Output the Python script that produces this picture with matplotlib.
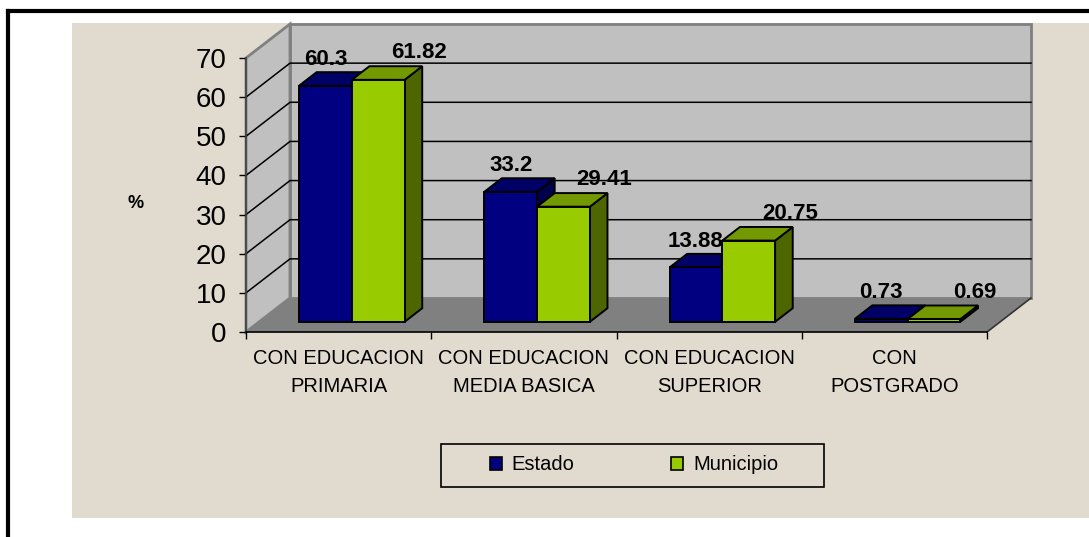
import matplotlib.pyplot as plt
from matplotlib.patches import Polygon, Rectangle

plt.rcParams['font.family'] = ['Liberation Sans', 'DejaVu Sans']

categories = ["CON EDUCACION\nPRIMARIA", "CON EDUCACION\nMEDIA BASICA",
              "CON EDUCACION\nSUPERIOR", "CON\nPOSTGRADO"]
series_names = ["Estado", "Municipio"]
estado = [60.3, 33.2, 13.88, 0.73]
municipio = [61.82, 29.41, 20.75, 0.69]
label_text = [["60.3", "33.2", "13.88", "0.73"], ["61.82", "29.41", "20.75", "0.69"]]
yticks = [0, 10, 20, 30, 40, 50, 60, 70]

W, H = 1089, 537
fig = plt.figure(figsize=(W / 100, H / 100), dpi=100)
fig.patch.set_facecolor("white")

# beige chart area and the outer frame lines (figure pixels)
fig.patches.append(Rectangle((72 / W, 1 - 518 / H), (W - 72) / W, (518 - 23) / H,
                             transform=fig.transFigure, facecolor="#E0DBCE", edgecolor="none", zorder=-5))
fig.lines.append(plt.Line2D([8 / W, 8 / W], [0, 1 - 11 / H], transform=fig.transFigure, color="black", lw=3))
fig.lines.append(plt.Line2D([8 / W, 1], [1 - 11 / H, 1 - 11 / H], transform=fig.transFigure, color="black", lw=3))

ax = fig.add_axes([246 / W, 1 - 332 / H, (987 - 246) / W, (332 - 58) / H])
ax.set_zorder(2)
ax.set_xlim(0, 4)
ax.set_ylim(0, 70)
ax.patch.set_visible(False)

# depth of the 3d box in data units
DX = 44 / (741 / 4)
DY = 34 / (274 / 70)


def P(x, y, d):
    return (x + d * DX, y + d * DY)


def poly(pts, fc, ec, lw, z):
    ax.add_patch(Polygon(pts, closed=True, facecolor=fc, edgecolor=ec, lw=lw, zorder=z, clip_on=False))


# walls and floor
poly([P(0, 0, 1), P(4, 0, 1), P(4, 70, 1), P(0, 70, 1)], "#C0C0C0", "#808080", 2, 1)
poly([P(0, 0, 0), P(0, 0, 1), P(0, 70, 1), P(0, 70, 0)], "#C0C0C0", "#808080", 2, 1)
poly([P(0, 0, 0), P(4, 0, 0), P(4, 0, 1), P(0, 0, 1)], "#808080", "none", 0, 2)
ax.plot([4, 4 + DX], [0, DY], color="#333333", lw=1.2, zorder=2, clip_on=False)
for v in yticks[1:-1]:
    x0, y0 = P(0, v, 0)
    x1, y1 = P(0, v, 1)
    x2, y2 = P(4, v, 1)
    ax.plot([x0, x1, x2], [y0, y1, y2], color="black", lw=1.1, zorder=2, clip_on=False)

# 3d bars
bw = 0.285
d0, d1 = 0.3, 0.7
colors = [("#000080", "#000066", "#00004D"), ("#99CC00", "#739900", "#4D6600")]
values = [estado, municipio]
label_off = [(0, 26), (41, 27)]
for i in range(len(categories)):
    for s in range(2):
        v = values[s][i]
        xl = i + 0.5 - bw + s * bw
        xr = xl + bw
        front, top, side = colors[s]
        z = 3 + s
        poly([P(xr, 0, d0), P(xr, 0, d1), P(xr, v, d1), P(xr, v, d0)], side, "black", 1.4, z)
        poly([P(xl, v, d0), P(xr, v, d0), P(xr, v, d1), P(xl, v, d1)], top, "black", 1.4, z)
        poly([P(xl, 0, d0), P(xr, 0, d0), P(xr, v, d0), P(xl, v, d0)], front, "black", 1.4, z)
        ax.annotate(label_text[s][i], P((xl + xr) / 2, v, d0), xytext=label_off[s],
                    textcoords="offset pixels", ha="center", va="center",
                    fontsize=16, fontweight="bold", zorder=10, annotation_clip=False)

# axes, ticks and labels
for sp in ["top", "right"]:
    ax.spines[sp].set_visible(False)
ax.spines["left"].set_color("#404040")
ax.spines["left"].set_linewidth(1.2)
ax.spines["bottom"].set_color("black")
ax.spines["bottom"].set_linewidth(1.2)
ax.spines["bottom"].set_zorder(2.5)
ax.set_yticks(yticks)
ax.tick_params(axis="y", labelsize=20, length=5, width=1, direction="out", pad=9)
ax.set_xticks([0, 1, 2, 3, 4])
ax.set_xticklabels([])
ax.tick_params(axis="x", which="major", length=5, width=1, direction="out")
ax.set_xticks([0.5, 1.5, 2.5, 3.5], minor=True)
ax.set_xticklabels(categories, minor=True, fontsize=14.5)
ax.tick_params(axis="x", which="minor", length=0, pad=12)
for lbl in ax.get_xticklabels(minor=True):
    lbl.set_linespacing(1.65)

fig.text(136 / W, 1 - 203 / H, "%", fontsize=13, fontweight="bold", ha="center", va="center")

# legend
fig.patches.append(Rectangle((441 / W, 1 - 487 / H), 383 / W, 43 / H, transform=fig.transFigure,
                             facecolor="none", edgecolor="black", lw=1.2, zorder=5))
handles = [Rectangle((0, 0), 1, 1, facecolor=c[0], edgecolor="black", lw=1.2) for c in colors]
fig.legend(handles, series_names, loc="center", bbox_to_anchor=(634 / W, 1 - 465 / H),
           ncol=2, frameon=False, fontsize=14.5, handlelength=0.6, handleheight=0.6,
           handletextpad=0.5, columnspacing=4.8)

fig.savefig("out.png", dpi=100)
